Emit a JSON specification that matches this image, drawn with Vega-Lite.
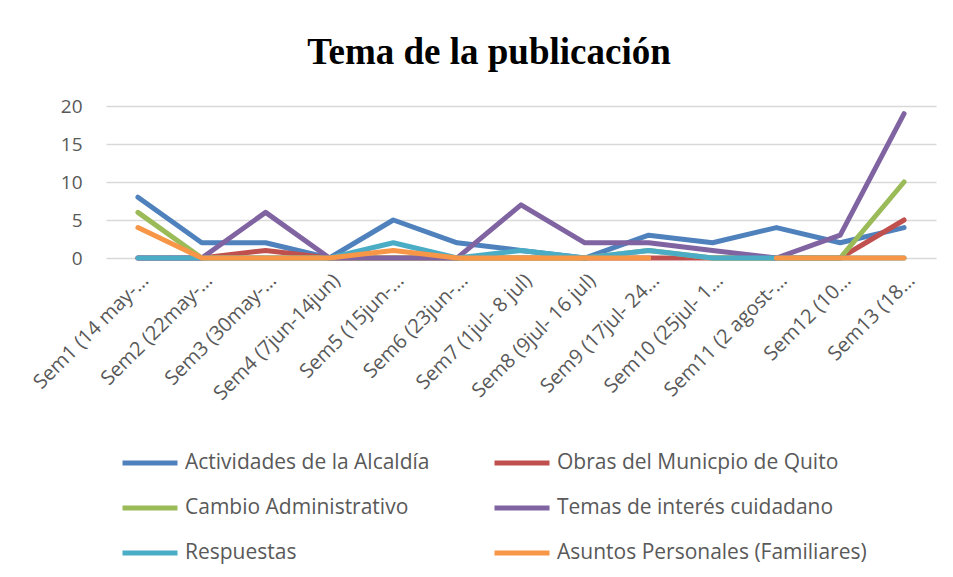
{
  "$schema": "https://vega.github.io/schema/vega-lite/v6.json",
  "autosize": {"type": "none"},
  "width": 830,
  "height": 152,
  "padding": {"left": 106, "top": 106, "right": 17, "bottom": 319},
  "background": "white",
  "title": {
    "text": "Tema de la publicación",
    "font": "Liberation Serif",
    "fontSize": 37,
    "fontWeight": "bold",
    "color": "#000000",
    "anchor": "middle",
    "dx": -32,
    "offset": 25
  },
  "config": {
    "view": {"stroke": null},
    "font": "Open Sans"
  },
  "data": {
    "values": [
      {"s": "Actividades de la Alcaldía", "w": "Sem1 (14 may-…", "v": 8},
      {"s": "Actividades de la Alcaldía", "w": "Sem2 (22may-…", "v": 2},
      {"s": "Actividades de la Alcaldía", "w": "Sem3 (30may-…", "v": 2},
      {"s": "Actividades de la Alcaldía", "w": "Sem4 (7jun-14jun)", "v": 0},
      {"s": "Actividades de la Alcaldía", "w": "Sem5 (15jun-…", "v": 5},
      {"s": "Actividades de la Alcaldía", "w": "Sem6 (23jun-…", "v": 2},
      {"s": "Actividades de la Alcaldía", "w": "Sem7 (1jul- 8 jul)", "v": 1},
      {"s": "Actividades de la Alcaldía", "w": "Sem8 (9jul- 16 jul)", "v": 0},
      {"s": "Actividades de la Alcaldía", "w": "Sem9 (17jul- 24…", "v": 3},
      {"s": "Actividades de la Alcaldía", "w": "Sem10 (25jul- 1…", "v": 2},
      {"s": "Actividades de la Alcaldía", "w": "Sem11 (2 agost-…", "v": 4},
      {"s": "Actividades de la Alcaldía", "w": "Sem12 (10…", "v": 2},
      {"s": "Actividades de la Alcaldía", "w": "Sem13 (18…", "v": 4},
      {"s": "Obras del  Municpio de Quito", "w": "Sem1 (14 may-…", "v": 0},
      {"s": "Obras del  Municpio de Quito", "w": "Sem2 (22may-…", "v": 0},
      {"s": "Obras del  Municpio de Quito", "w": "Sem3 (30may-…", "v": 1},
      {"s": "Obras del  Municpio de Quito", "w": "Sem4 (7jun-14jun)", "v": 0},
      {"s": "Obras del  Municpio de Quito", "w": "Sem5 (15jun-…", "v": 0},
      {"s": "Obras del  Municpio de Quito", "w": "Sem6 (23jun-…", "v": 0},
      {"s": "Obras del  Municpio de Quito", "w": "Sem7 (1jul- 8 jul)", "v": 0},
      {"s": "Obras del  Municpio de Quito", "w": "Sem8 (9jul- 16 jul)", "v": 0},
      {"s": "Obras del  Municpio de Quito", "w": "Sem9 (17jul- 24…", "v": 0},
      {"s": "Obras del  Municpio de Quito", "w": "Sem10 (25jul- 1…", "v": 0},
      {"s": "Obras del  Municpio de Quito", "w": "Sem11 (2 agost-…", "v": 0},
      {"s": "Obras del  Municpio de Quito", "w": "Sem12 (10…", "v": 0},
      {"s": "Obras del  Municpio de Quito", "w": "Sem13 (18…", "v": 5},
      {"s": "Cambio Administrativo", "w": "Sem1 (14 may-…", "v": 6},
      {"s": "Cambio Administrativo", "w": "Sem2 (22may-…", "v": 0},
      {"s": "Cambio Administrativo", "w": "Sem3 (30may-…", "v": 0},
      {"s": "Cambio Administrativo", "w": "Sem4 (7jun-14jun)", "v": 0},
      {"s": "Cambio Administrativo", "w": "Sem5 (15jun-…", "v": 0},
      {"s": "Cambio Administrativo", "w": "Sem6 (23jun-…", "v": 0},
      {"s": "Cambio Administrativo", "w": "Sem7 (1jul- 8 jul)", "v": 0},
      {"s": "Cambio Administrativo", "w": "Sem8 (9jul- 16 jul)", "v": 0},
      {"s": "Cambio Administrativo", "w": "Sem9 (17jul- 24…", "v": 1},
      {"s": "Cambio Administrativo", "w": "Sem10 (25jul- 1…", "v": 0},
      {"s": "Cambio Administrativo", "w": "Sem11 (2 agost-…", "v": 0},
      {"s": "Cambio Administrativo", "w": "Sem12 (10…", "v": 0},
      {"s": "Cambio Administrativo", "w": "Sem13 (18…", "v": 10},
      {"s": "Temas de interés cuidadano", "w": "Sem1 (14 may-…", "v": 0},
      {"s": "Temas de interés cuidadano", "w": "Sem2 (22may-…", "v": 0},
      {"s": "Temas de interés cuidadano", "w": "Sem3 (30may-…", "v": 6},
      {"s": "Temas de interés cuidadano", "w": "Sem4 (7jun-14jun)", "v": 0},
      {"s": "Temas de interés cuidadano", "w": "Sem5 (15jun-…", "v": 0},
      {"s": "Temas de interés cuidadano", "w": "Sem6 (23jun-…", "v": 0},
      {"s": "Temas de interés cuidadano", "w": "Sem7 (1jul- 8 jul)", "v": 7},
      {"s": "Temas de interés cuidadano", "w": "Sem8 (9jul- 16 jul)", "v": 2},
      {"s": "Temas de interés cuidadano", "w": "Sem9 (17jul- 24…", "v": 2},
      {"s": "Temas de interés cuidadano", "w": "Sem10 (25jul- 1…", "v": 1},
      {"s": "Temas de interés cuidadano", "w": "Sem11 (2 agost-…", "v": 0},
      {"s": "Temas de interés cuidadano", "w": "Sem12 (10…", "v": 3},
      {"s": "Temas de interés cuidadano", "w": "Sem13 (18…", "v": 19},
      {"s": "Respuestas", "w": "Sem1 (14 may-…", "v": 0},
      {"s": "Respuestas", "w": "Sem2 (22may-…", "v": 0},
      {"s": "Respuestas", "w": "Sem3 (30may-…", "v": 0},
      {"s": "Respuestas", "w": "Sem4 (7jun-14jun)", "v": 0},
      {"s": "Respuestas", "w": "Sem5 (15jun-…", "v": 2},
      {"s": "Respuestas", "w": "Sem6 (23jun-…", "v": 0},
      {"s": "Respuestas", "w": "Sem7 (1jul- 8 jul)", "v": 1},
      {"s": "Respuestas", "w": "Sem8 (9jul- 16 jul)", "v": 0},
      {"s": "Respuestas", "w": "Sem9 (17jul- 24…", "v": 1},
      {"s": "Respuestas", "w": "Sem10 (25jul- 1…", "v": 0},
      {"s": "Respuestas", "w": "Sem11 (2 agost-…", "v": 0},
      {"s": "Respuestas", "w": "Sem12 (10…", "v": 0},
      {"s": "Respuestas", "w": "Sem13 (18…", "v": 0},
      {"s": "Asuntos Personales (Familiares)", "w": "Sem1 (14 may-…", "v": 4},
      {"s": "Asuntos Personales (Familiares)", "w": "Sem2 (22may-…", "v": 0},
      {"s": "Asuntos Personales (Familiares)", "w": "Sem3 (30may-…", "v": 0},
      {"s": "Asuntos Personales (Familiares)", "w": "Sem4 (7jun-14jun)", "v": 0},
      {"s": "Asuntos Personales (Familiares)", "w": "Sem5 (15jun-…", "v": 1},
      {"s": "Asuntos Personales (Familiares)", "w": "Sem6 (23jun-…", "v": 0},
      {"s": "Asuntos Personales (Familiares)", "w": "Sem7 (1jul- 8 jul)", "v": 0},
      {"s": "Asuntos Personales (Familiares)", "w": "Sem8 (9jul- 16 jul)", "v": 0},
      {"s": "Asuntos Personales (Familiares)", "w": "Sem9 (17jul- 24…", "v": 0},
      {"s": "Asuntos Personales (Familiares)", "w": "Sem10 (25jul- 1…", "v": null},
      {"s": "Asuntos Personales (Familiares)", "w": "Sem11 (2 agost-…", "v": 0},
      {"s": "Asuntos Personales (Familiares)", "w": "Sem12 (10…", "v": 0},
      {"s": "Asuntos Personales (Familiares)", "w": "Sem13 (18…", "v": 0}
    ]
  },
  "mark": {"type": "line", "strokeWidth": 5, "strokeCap": "round", "strokeJoin": "round", "invalid": "break-paths-show-domains"},
  "encoding": {
    "x": {
      "field": "w",
      "type": "nominal",
      "sort": null,
      "scale": {"type": "point", "padding": 0.5},
      "axis": {
        "title": null,
        "labelAngle": -45,
        "labelAlign": "right",
        "labelBaseline": "top",
        "labelFont": "Open Sans",
        "labelFontSize": 20,
        "labelColor": "#595959",
        "labelPadding": 12,
        "labelDx": 6,
        "labelLimit": 300,
        "ticks": false,
        "domain": false,
        "grid": false
      }
    },
    "y": {
      "field": "v",
      "type": "quantitative",
      "scale": {"domain": [0, 20], "nice": false},
      "axis": {
        "title": null,
        "values": [0, 5, 10, 15, 20],
        "labelFont": "Open Sans",
        "labelFontSize": 19,
        "labelColor": "#595959",
        "labelPadding": 24,
        "ticks": false,
        "domain": false,
        "gridColor": "#d9d9d9",
        "gridWidth": 1.5
      }
    },
    "color": {
      "field": "s",
      "type": "nominal",
      "sort": null,
      "scale": {
        "domain": ["Actividades de la Alcaldía", "Obras del  Municpio de Quito", "Cambio Administrativo", "Temas de interés cuidadano", "Respuestas", "Asuntos Personales (Familiares)"],
        "range": ["#4F81BD", "#C0504D", "#9BBB59", "#8064A2", "#4BACC6", "#F79646"]
      },
      "legend": {
        "title": null,
        "orient": "none",
        "direction": "horizontal",
        "legendX": 14,
        "legendY": 327,
        "columns": 2,
        "columnPadding": 54,
        "rowPadding": 5,
        "symbolType": "stroke",
        "symbolSize": 3025,
        "symbolStrokeWidth": 5,
        "labelFont": "Open Sans",
        "labelFontSize": 21,
        "labelColor": "#595959",
        "labelOffset": 5,
        "labelLimit": 400
      }
    }
  }
}
